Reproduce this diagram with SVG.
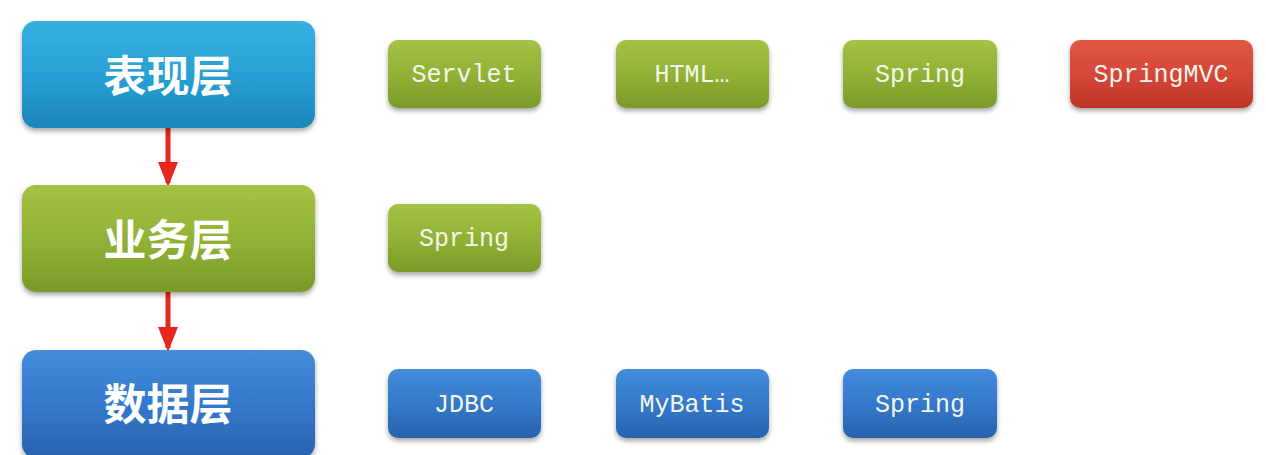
<svg xmlns="http://www.w3.org/2000/svg" width="1266" height="455" viewBox="0 0 1266 455">
<defs>
<style>
.big{font-family:"Noto Sans CJK SC","Noto Sans",sans-serif;font-weight:bold;font-size:43px;fill:#ffffff;text-anchor:middle;dominant-baseline:central}
.sm{font-family:"Liberation Mono","Courier New",monospace;font-size:25px;fill:#f4f6ea;text-anchor:middle;dominant-baseline:central}
.box{filter:url(#sh)}
</style>
<linearGradient id="gCyan" x1="0" y1="0" x2="0" y2="1"><stop offset="0" stop-color="#34b0e0"/><stop offset="0.5" stop-color="#28a0d4"/><stop offset="1" stop-color="#1c86ba"/></linearGradient>
<linearGradient id="gGreen" x1="0" y1="0" x2="0" y2="1"><stop offset="0" stop-color="#a4c244"/><stop offset="0.5" stop-color="#92b236"/><stop offset="1" stop-color="#7b9929"/></linearGradient>
<linearGradient id="gBlue" x1="0" y1="0" x2="0" y2="1"><stop offset="0" stop-color="#448cda"/><stop offset="0.5" stop-color="#3479cc"/><stop offset="1" stop-color="#2863ae"/></linearGradient>
<linearGradient id="gRed" x1="0" y1="0" x2="0" y2="1"><stop offset="0" stop-color="#e05843"/><stop offset="0.5" stop-color="#d6473a"/><stop offset="1" stop-color="#bd3528"/></linearGradient>
<filter id="sh" x="-10%" y="-10%" width="120%" height="130%"><feDropShadow dx="0" dy="3" stdDeviation="2.5" flood-color="#000" flood-opacity="0.35"/></filter>
<marker id="ah" markerWidth="5" markerHeight="4" refX="4.2" refY="2" orient="auto" markerUnits="strokeWidth"><path d="M0,0 L5,2 L0,4 Z" fill="#e8261b"/></marker>
</defs>
<rect width="1266" height="455" fill="#ffffff"/>
<g id="connectors" stroke="#e8261b" stroke-width="5" fill="none">
<line x1="168" y1="128" x2="168" y2="183" marker-end="url(#ah)"/>
<line x1="168" y1="292" x2="168" y2="348" marker-end="url(#ah)"/>
</g>
<g id="presentation"><rect class="box" x="22" y="21" width="293" height="107" rx="14" fill="url(#gCyan)"/><text class="big" x="168" y="73">表现层</text></g>
<g id="business"><rect class="box" x="22" y="185" width="293" height="107" rx="14" fill="url(#gGreen)"/><text class="big" x="168" y="237">业务层</text></g>
<g id="data"><rect class="box" x="22" y="350" width="293" height="108" rx="14" fill="url(#gBlue)"/><text class="big" x="168" y="401">数据层</text></g>
<g id="servlet"><rect class="box" x="388" y="40" width="153" height="68" rx="10" fill="url(#gGreen)"/><text class="sm" x="464" y="75">Servlet</text></g>
<g id="html"><rect class="box" x="616" y="40" width="153" height="68" rx="10" fill="url(#gGreen)"/><text class="sm" x="692" y="75">HTML…</text></g>
<g id="spring1"><rect class="box" x="843" y="40" width="154" height="68" rx="10" fill="url(#gGreen)"/><text class="sm" x="920" y="75">Spring</text></g>
<g id="springmvc"><rect class="box" x="1070" y="40" width="183" height="68" rx="10" fill="url(#gRed)"/><text class="sm" x="1161" y="75">SpringMVC</text></g>
<g id="spring2"><rect class="box" x="388" y="204" width="153" height="68" rx="10" fill="url(#gGreen)"/><text class="sm" x="464" y="239">Spring</text></g>
<g id="jdbc"><rect class="box" x="388" y="369" width="153" height="69" rx="10" fill="url(#gBlue)"/><text class="sm" x="464" y="405">JDBC</text></g>
<g id="mybatis"><rect class="box" x="616" y="369" width="153" height="69" rx="10" fill="url(#gBlue)"/><text class="sm" x="692" y="405">MyBatis</text></g>
<g id="spring3"><rect class="box" x="843" y="369" width="154" height="69" rx="10" fill="url(#gBlue)"/><text class="sm" x="920" y="405">Spring</text></g>
</svg>
